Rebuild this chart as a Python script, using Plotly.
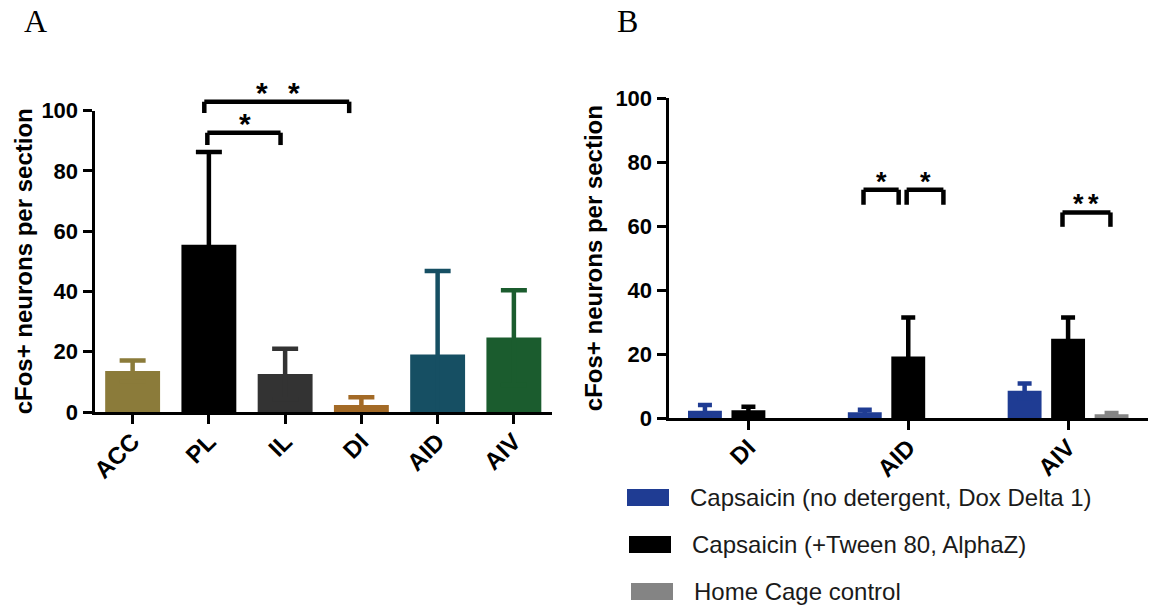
import plotly.graph_objects as go

# ---------------- data ----------------
regions_a = ["ACC", "PL", "IL", "DI", "AID", "AIV"]
means_a = [13.6, 55.5, 12.6, 2.3, 19.1, 24.7]
sems_a = [3.5, 30.8, 8.4, 2.6, 27.7, 15.7]
colors_a = ["#8b7b3a", "#000000", "#333333", "#a36a26", "#164f63", "#1b5c2e"]

regions_b = ["DI", "AID", "AIV"]
groups_b = ["Capsaicin (no detergent, Dox Delta 1)",
            "Capsaicin (+Tween 80, AlphaZ)",
            "Home Cage control"]
means_b_nodet = [2.3, 1.8, 8.5]
sems_b_nodet = [1.8, 0.8, 2.3]
means_b_tween = [2.4, 19.2, 24.8]
sems_b_tween = [1.1, 12.2, 6.6]
means_b_home = [None, None, 1.2]
sems_b_home = [None, None, 0.4]
colors_b = ["#1f3c93", "#000000", "#848484"]

y_ticks = [0, 20, 40, 60, 80, 100]
y_title = "cFos+ neurons per section"

W, H = 1152, 607
FONT = "Arial, Liberation Sans, Helvetica, sans-serif"


def px_x(p):
    return p / W


def px_y(p):
    return 1 - p / H


fig = go.Figure()

# Panel A bars (one trace per region so error bars share bar colour);
# mean +/- SEM, the lower half is hidden inside the bar (GraphPad style)
for reg, m, s, c in zip(regions_a, means_a, sems_a, colors_a):
    fig.add_trace(go.Bar(
        x=[reg], y=[m], width=0.72, marker=dict(color=c, line=dict(width=0)),
        error_y=dict(type="data", array=[s], color=c, thickness=4.5, width=13),
        xaxis="x", yaxis="y", showlegend=False, name=reg))

# Panel B grouped bars
series_b = [(means_b_nodet, sems_b_nodet), (means_b_tween, sems_b_tween),
            (means_b_home, sems_b_home)]
bw = 0.212
step = 0.272
for i, ((m, s), name, c) in enumerate(zip(series_b, groups_b, colors_b)):
    fig.add_trace(go.Bar(
        x=regions_b, y=m, width=bw, offset=(i - 1) * step - bw / 2,
        marker=dict(color=c, line=dict(width=0)),
        error_y=dict(type="data", array=s, color=c, thickness=4.5, width=7),
        xaxis="x2", yaxis="y2", showlegend=False, name=name))

axis_common = dict(showline=True, linewidth=3, linecolor="black", ticks="outside",
                   ticklen=9, tickwidth=3, tickcolor="black", showgrid=False,
                   zeroline=False, automargin=False)
xtick_font = dict(size=24, weight="bold", family=FONT)
ytick_font = dict(size=22, weight="bold", family=FONT)

fig.update_layout(
    template="none",
    width=W, height=H, autosize=False,
    margin=dict(l=0, r=0, t=0, b=0, pad=0, autoexpand=False),
    paper_bgcolor="white", plot_bgcolor="white",
    barmode="overlay",
    font=dict(family=FONT, color="black"),
    xaxis=dict(domain=[px_x(94.5), px_x(552)], type="category",
               categoryorder="array", categoryarray=regions_a, range=[-0.5, 5.5],
               tickangle=-45, tickfont=xtick_font, ticklabelstandoff=-6,
               anchor="y", **axis_common),
    yaxis=dict(domain=[px_y(412), px_y(110.7)], range=[0, 100], tickvals=y_ticks,
               tickfont=ytick_font, anchor="x", **axis_common),
    xaxis2=dict(domain=[px_x(668.5), px_x(1148)], type="category",
                categoryorder="array", categoryarray=regions_b, range=[-0.5, 2.5],
                tickangle=-45, tickfont=xtick_font, ticklabelstandoff=-6,
                anchor="y2", **axis_common),
    yaxis2=dict(domain=[px_y(418), px_y(98.3)], range=[0, 100], tickvals=y_ticks,
                tickfont=ytick_font, anchor="x2", **axis_common),
)

shapes = []
annotations = []

# y-axis titles
for yr, xp in [("y domain", 23), ("y2 domain", 593)]:
    annotations.append(dict(text=y_title, xref="paper", yref=yr, x=px_x(xp), y=0.5,
                            xanchor="center", yanchor="middle", textangle=-90,
                            showarrow=False,
                            font=dict(size=24, weight="bold", family=FONT, color="black")))

# panel letters
for letter, xp in [("A", 35), ("B", 627)]:
    annotations.append(dict(text=letter, xref="paper", yref="paper", x=px_x(xp),
                            y=px_y(21), xanchor="center", yanchor="middle",
                            showarrow=False,
                            font=dict(size=32, family="Liberation Serif, Times New Roman, serif",
                                      color="black")))


def bracket(xref, yref, x0, x1, ytop, ybot, stars, star_size, star_dy):
    lw = 4.5
    shapes.append(dict(type="line", xref=xref, yref=yref, x0=x0, x1=x1,
                       y0=ytop / 100, y1=ytop / 100, line=dict(color="black", width=lw)))
    for xx in (x0, x1):
        shapes.append(dict(type="line", xref=xref, yref=yref, x0=xx, x1=xx,
                           y0=ytop / 100, y1=ybot / 100, line=dict(color="black", width=lw)))
    for sx in stars:
        annotations.append(dict(text="*", xref=xref, yref=yref, x=sx,
                                y=ytop / 100, yshift=star_dy, xanchor="center",
                                yanchor="middle", showarrow=False,
                                font=dict(size=star_size, weight="bold", family=FONT,
                                          color="black")))


# Panel A significance (PL vs IL, PL vs DI)
iPL, iIL, iDI = regions_a.index("PL"), regions_a.index("IL"), regions_a.index("DI")
bracket("x", "y domain", iPL - 0.06, iDI - 0.16, 103.0, 99.2,
        [iPL + 0.70, iPL + 1.12], 30, 9)
bracket("x", "y domain", iPL - 0.02, iIL - 0.06, 92.7, 88.6,
        [iPL + 0.48], 30, 9)

# Panel B significance
iAID, iAIV = regions_b.index("AID"), regions_b.index("AIV")
bracket("x2", "y2 domain", iAID - 0.28, iAID - 0.06, 71.4, 66.7,
        [iAID - 0.17], 27, 8)
bracket("x2", "y2 domain", iAID - 0.01, iAID + 0.22, 71.4, 66.7,
        [iAID + 0.11], 27, 8)
bracket("x2", "y2 domain", iAIV - 0.035, iAIV + 0.265, 64.3, 59.8,
        [iAIV + 0.065, iAIV + 0.16], 27, 8)

# manual legend for panel B
leg_rows = [(489, 506, 627, 688), (536, 553, 629, 690), (583, 600, 631, 692)]
for (y0, y1, bx, tx), name, c in zip(leg_rows, groups_b, colors_b):
    shapes.append(dict(type="rect", xref="paper", yref="paper",
                       x0=px_x(bx), x1=px_x(bx + 42), y0=px_y(y1), y1=px_y(y0),
                       fillcolor=c, line=dict(width=0)))
    annotations.append(dict(text=name, xref="paper", yref="paper", x=px_x(tx),
                            y=px_y((y0 + y1) / 2), xanchor="left", yanchor="middle",
                            showarrow=False,
                            font=dict(size=24, family=FONT, color="#1a1a1a")))

fig.update_layout(shapes=shapes, annotations=annotations)

fig.write_html("out.html", config={"displayModeBar": False},
               post_script="document.body.style.margin='0';")
